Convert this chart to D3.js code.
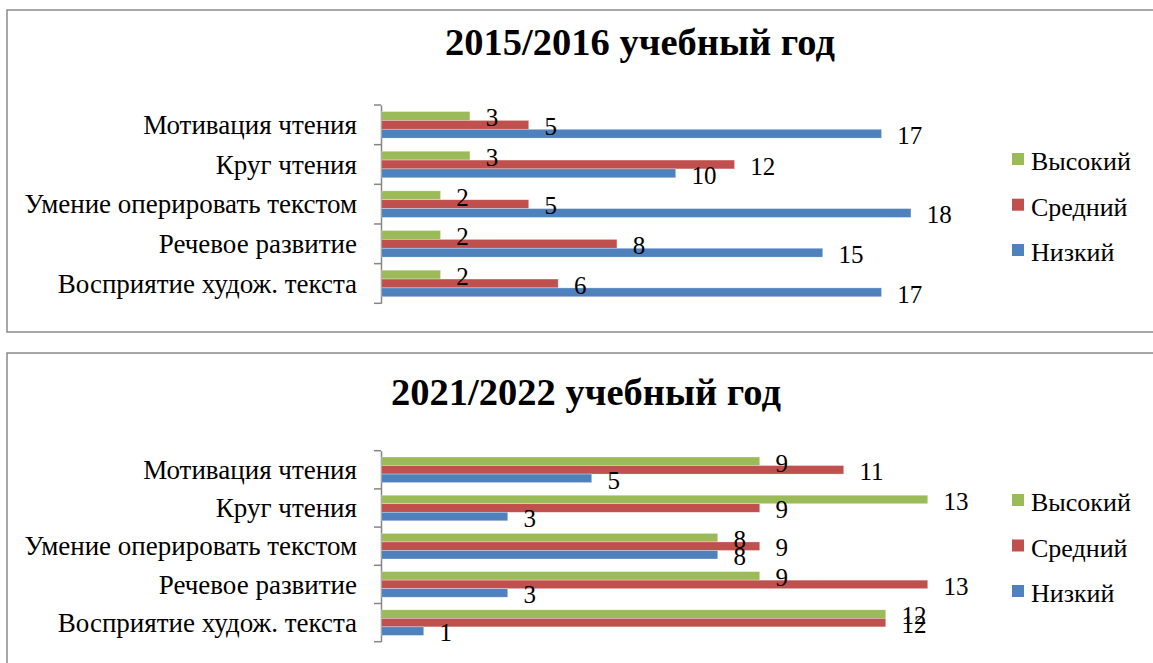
<!DOCTYPE html>
<html><head><meta charset="utf-8">
<script src="https://cdn.jsdelivr.net/npm/d3@7"></script>
<style>
html,body{margin:0;padding:0;background:#fff;}
svg{display:block;font-family:"Liberation Serif","Times New Roman","DejaVu Serif",serif;}
svg text{font-family:"Liberation Serif","Times New Roman","DejaVu Serif",serif !important;fill:#000;}
</style></head>
<body>
<svg id="chart" width="1153" height="663"></svg>
<script>
const categories = ["Мотивация чтения","Круг чтения","Умение оперировать текстом","Речевое развитие","Восприятие худож. текста"];
const seriesNames = ["Высокий","Средний","Низкий"];
const seriesColors = ["#9BBB59","#C0504D","#4F81BD"];
const titles = ["2015/2016 учебный год","2021/2022 учебный год"];
// 2015/2016
const high2015 = [3,3,2,2,2];
const mid2015  = [5,12,5,8,6];
const low2015  = [17,10,18,15,17];
// 2021/2022
const high2021 = [9,13,8,9,12];
const mid2021  = [11,9,9,13,12];
const low2021  = [5,3,8,3,1];
const xMax = [20,14];

const svg = d3.select("#chart");

const panels = [
  {title:titles[0], series:[high2015,mid2015,low2015], xmax:xMax[0],
   box:{x:7,y:10,w:1266,h:322}, titleX:640, titleBase:55, y0:105, y1:303.3, legendY:[159,204.7,250]},
  {title:titles[1], series:[high2021,mid2021,low2021], xmax:xMax[1],
   box:{x:7,y:353,w:1158,h:340}, titleX:586, titleBase:405, y0:450.7, y1:641.7, legendY:[500,545.5,591]}
];

panels.forEach(p => {
  const g = svg.append("g");
  g.append("rect").attr("x",p.box.x).attr("y",p.box.y).attr("width",p.box.w).attr("height",p.box.h)
    .attr("fill","#fff").attr("stroke","#8a8a8a").attr("stroke-width",1.5);

  g.append("text").attr("x",p.titleX).attr("y",p.titleBase).attr("text-anchor","middle")
    .style("font-size","38.5px").style("font-weight","bold").text(p.title);

  const x = d3.scaleLinear().domain([0,p.xmax]).range([381,969]);
  const y = d3.scaleBand().domain(categories).range([p.y0,p.y1]).paddingInner(0).paddingOuter(0);
  const bw = y.bandwidth();
  const sub = d3.scaleBand().domain(seriesNames).range([bw*0.165, bw*0.835]).padding(0);

  // axis
  const axis = d3.axisLeft(y).tickSize(0).tickFormat(d=>d).tickPadding(24);
  const ag = g.append("g").attr("transform","translate(381,0)").call(axis);
  ag.attr("font-family",null).attr("font-size",null);
  ag.select(".domain").attr("stroke","#868686").attr("stroke-width",1.5);
  ag.selectAll(".tick text").style("font-size","27px").attr("fill","#000").attr("dy","0.34em");
  // category boundary ticks
  const bounds = categories.map(c=>y(c)).concat([p.y1]);
  g.selectAll(".btick").data(bounds).enter().append("line")
    .attr("x1",374).attr("x2",381).attr("y1",d=>d).attr("y2",d=>d)
    .attr("stroke","#868686").attr("stroke-width",1.5);

  // bars
  seriesNames.forEach((s,si) => {
    const vals = p.series[si];
    g.selectAll(".bar"+si).data(categories).enter().append("rect")
      .attr("x",x(0)+0.75).attr("y",(c)=>y(c)+sub(s))
      .attr("width",(c,i)=>x(vals[i])-x(0)).attr("height",sub.bandwidth())
      .attr("fill",seriesColors[si]).attr("stroke","#fff").attr("stroke-opacity",0.5).attr("stroke-width",0.6);
  });
  // labels
  seriesNames.forEach((s,si) => {
    const vals = p.series[si];
    g.selectAll(".lab"+si).data(categories).enter().append("text")
      .attr("x",(c,i)=>x(vals[i])+16.5).attr("y",(c)=>y(c)+sub(s)+sub.bandwidth()/2+1.5)
      .attr("dy","0.35em").style("font-size","25px").text((c,i)=>vals[i]);
  });
  // legend
  seriesNames.forEach((s,si) => {
    g.append("rect").attr("x",1012).attr("y",p.legendY[si]-6).attr("width",12).attr("height",12)
      .attr("fill",seriesColors[si]);
    g.append("text").attr("x",1031).attr("y",p.legendY[si]+2).attr("dy","0.35em")
      .style("font-size","26px").text(s);
  });
});
</script>
</body></html>
